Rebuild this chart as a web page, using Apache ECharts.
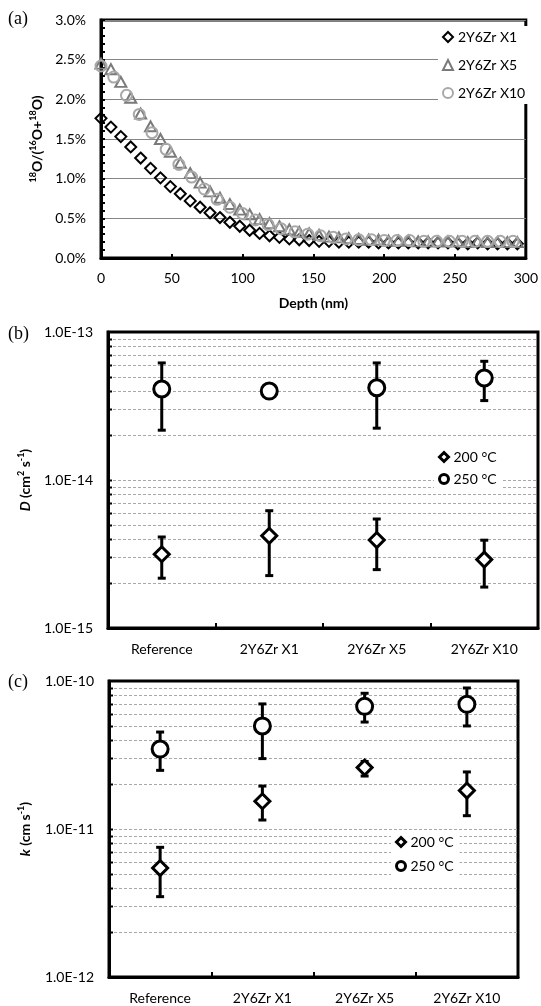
<!DOCTYPE html>
<html><head><meta charset="utf-8">
<script src="https://cdn.jsdelivr.net/npm/echarts@6/dist/echarts.min.js"></script>
<style>html,body{margin:0;padding:0;background:#fff}#c{width:541px;height:1006px}</style>
</head><body><div id="c"></div>
<script>
// ---------- Panel (a) data ----------
const depthX1 = [0,7,14,21,28,35,42,49,56,63,70,77,84,91,98,105,112,119,126,133,140,147,154,161,168,175,182,189,196,203,210,217,224,231,238,245,252,259,266,273,280,287,294];
const ratioX1 = [1.76,1.65,1.53,1.40,1.26,1.13,1.01,0.90,0.81,0.72,0.64,0.57,0.51,0.45,0.40,0.35,0.31,0.28,0.26,0.24,0.23,0.22,0.21,0.21,0.20,0.20,0.20,0.20,0.19,0.19,0.19,0.19,0.19,0.19,0.19,0.19,0.18,0.18,0.19,0.18,0.18,0.18,0.18];
const depthX5 = [0,7,14,21,28,35,42,49,56,63,70,77,84,91,98,105,112,119,126,133,140,147,154,161,168,175,182,189,196,203,210,217,224,231,238,245,252,259,266,273,280,287,294];
const ratioX5 = [2.45,2.38,2.22,2.02,1.82,1.66,1.50,1.34,1.20,1.07,0.95,0.84,0.76,0.68,0.61,0.55,0.49,0.44,0.40,0.36,0.33,0.31,0.29,0.27,0.26,0.25,0.24,0.23,0.23,0.22,0.22,0.22,0.21,0.21,0.21,0.21,0.21,0.20,0.21,0.20,0.20,0.20,0.20];
const depthX10 = [0,9,18,27,36,46,55,64,73,82,91,100,109,118,127,137,146,155,164,173,182,191,200,209,218,228,237,246,255,264,273,282,291];
const ratioX10 = [2.42,2.28,2.05,1.81,1.58,1.37,1.18,1.02,0.87,0.74,0.64,0.56,0.48,0.42,0.37,0.33,0.30,0.28,0.26,0.24,0.23,0.23,0.22,0.22,0.22,0.21,0.21,0.21,0.21,0.21,0.21,0.21,0.21];
const seriesNamesA = ['2Y6Zr X1','2Y6Zr X5','2Y6Zr X10'];

// ---------- Panels (b) and (c) data ----------
const categories = ['Reference','2Y6Zr X1','2Y6Zr X5','2Y6Zr X10'];
const tempNames = ['200 °C','250 °C'];
// D (cm2 s-1)
const D200 = [3.15e-15, 4.2e-15, 3.93e-15, 2.9e-15];
const D200lo = [2.17e-15, 2.26e-15, 2.48e-15, 1.89e-15];
const D200hi = [4.12e-15, 6.2e-15, 5.45e-15, 3.92e-15];
const D250 = [4.12e-14, 3.99e-14, 4.2e-14, 4.89e-14];
const D250lo = [2.17e-14, null, 2.24e-14, 3.44e-14];
const D250hi = [6.18e-14, null, 6.18e-14, 6.34e-14];
// k (cm s-1)
const K200 = [5.45e-12, 1.54e-11, 2.6e-11, 1.82e-11];
const K200lo = [3.49e-12, 1.15e-11, 2.28e-11, 1.23e-11];
const K200hi = [7.52e-12, 1.95e-11, 2.86e-11, 2.43e-11];
const K250 = [3.47e-11, 4.97e-11, 6.74e-11, 6.96e-11];
const K250lo = [2.49e-11, 2.99e-11, 5.28e-11, 4.97e-11];
const K250hi = [4.52e-11, 7.0e-11, 8.26e-11, 8.97e-11];
const gridValsB = [2e-15,3e-15,4e-15,5e-15,6e-15,7e-15,8e-15,9e-15,1e-14,2e-14,3e-14,4e-14,5e-14,6e-14,7e-14,8e-14,9e-14];
const gridValsC = [2e-12,3e-12,4e-12,5e-12,6e-12,7e-12,8e-12,9e-12,1e-11,2e-11,3e-11,4e-11,5e-11,6e-11,7e-11,8e-11,9e-11];

const FF = 'Lato';
const chart = echarts.init(document.getElementById('c'), null, {renderer:'canvas'});

function logGrid(idx, vals){
  return {type:'custom', xAxisIndex:idx, yAxisIndex:idx, silent:true, z:1,
    data: vals.map(v=>[0,v]),
    renderItem(params, api){
      const y = Math.round(api.coord([0, api.value(1)])[1]) + 0.5;
      const cs = params.coordSys;
      return {type:'group', children:[
        {type:'line', shape:{x1:cs.x, y1:y, x2:cs.x+cs.width, y2:y}, style:{stroke:'#a8a8a8', lineWidth:1, lineDash:[3,2]}},
        {type:'line', shape:{x1:cs.x, y1:y, x2:cs.x+4, y2:y}, style:{stroke:'#000', lineWidth:2}}
      ]};
    }};
}
function errSeries(idx, lo, hi){
  const d = [];
  lo.forEach((l,i)=>{ if(l!=null) d.push([i, l, hi[i]]); });
  return {type:'custom', xAxisIndex:idx, yAxisIndex:idx, silent:true, z:3, data:d,
    renderItem(params, api){
      const p1 = api.coord([api.value(0), api.value(1)]);
      const p2 = api.coord([api.value(0), api.value(2)]);
      const w = 4, st = {stroke:'#000', lineWidth:3};
      return {type:'group', children:[
        {type:'line', shape:{x1:p1[0],y1:p1[1],x2:p2[0],y2:p2[1]}, style:st},
        {type:'line', shape:{x1:p1[0]-w,y1:p1[1],x2:p1[0]+w,y2:p1[1]}, style:st},
        {type:'line', shape:{x1:p2[0]-w,y1:p2[1],x2:p2[0]+w,y2:p2[1]}, style:st}
      ]};
    }};
}
const expFmt = v => Number(v).toExponential(1).toUpperCase();
const richTitle = {
  b:{fontSize:14, fontWeight:'bold', fontFamily:FF, color:'#000', lineHeight:17},
  i:{fontSize:14, fontWeight:'bold', fontStyle:'italic', fontFamily:FF, color:'#000', lineHeight:17},
  s:{fontSize:9, fontWeight:'bold', fontFamily:FF, color:'#000', lineHeight:10, verticalAlign:'top'}
};
const lbl = {color:'#000', fontSize:14, fontFamily:FF};
const axLine = {show:true, lineStyle:{color:'#000', width:3}};

function catX(idx){
  return {gridIndex:idx, type:'category', data:categories, boundaryGap:true,
    axisLine:axLine, axisTick:{show:true, inside:true, length:5, lineStyle:{color:'#000', width:2}},
    axisLabel:Object.assign({margin:14, interval:0}, lbl), splitLine:{show:false}};
}
function logY(idx, min, max, name, gap){
  return {gridIndex:idx, type:'log', logBase:10, min:min, max:max, splitNumber:2,
    axisLine:axLine, axisTick:{show:false}, splitLine:{show:false},
    axisLabel:Object.assign({margin:15, formatter:expFmt}, lbl),
    name:name, nameLocation:'middle', nameGap:gap, nameRotate:90,
    nameTextStyle:{rich:richTitle}};
}
const hollow = (c,w)=>({color:'rgba(255,255,255,0)', borderColor:c, borderWidth:w, opacity:1});
const solidW = {color:'#fff', borderColor:'#000', borderWidth:3, opacity:1};

const option = {
  animation:false,
  backgroundColor:'#fff',
  title:[
    {text:'(a)', left:8, top:10, padding:0, textStyle:{fontFamily:'Liberation Serif', fontSize:18, fontWeight:'normal', color:'#000'}},
    {text:'(b)', left:8, top:325, padding:0, textStyle:{fontFamily:'Liberation Serif', fontSize:18, fontWeight:'normal', color:'#000'}},
    {text:'(c)', left:8, top:673, padding:0, textStyle:{fontFamily:'Liberation Serif', fontSize:18, fontWeight:'normal', color:'#000'}}
  ],
  grid:[
    {left:101, top:20, width:429, height:238, show:true, borderColor:'#000', borderWidth:3, backgroundColor:'transparent'},
    {left:108, top:332, width:430, height:296, show:true, borderColor:'#000', borderWidth:3, backgroundColor:'transparent'},
    {left:109, top:681, width:409, height:296, show:true, borderColor:'#000', borderWidth:3, backgroundColor:'transparent'}
  ],
  legend:[
    {data:seriesNamesA, orient:'vertical', left:438, top:26, padding:[4,6,4,4], itemGap:14, itemWidth:10, itemHeight:10,
     backgroundColor:'#fff', textStyle:lbl, selectedMode:false, itemStyle:{borderWidth:2}},
    {data:tempNames, orient:'vertical', left:434, top:447, padding:[3,6,3,4], itemGap:8, itemWidth:9, itemHeight:9,
     backgroundColor:'#fff', textStyle:lbl, selectedMode:false, itemStyle:{borderWidth:3, opacity:1}},
    {data:tempNames, orient:'vertical', left:391, top:832, padding:[3,6,3,4], itemGap:10, itemWidth:9, itemHeight:9,
     backgroundColor:'#fff', textStyle:lbl, selectedMode:false, itemStyle:{borderWidth:3, opacity:1}}
  ],
  xAxis:[
    {gridIndex:0, type:'value', min:0, max:300, interval:50,
     axisLine:axLine, axisTick:{show:true, inside:true, length:4, lineStyle:{color:'#000', width:2}},
     axisLabel:Object.assign({margin:13}, lbl), splitLine:{show:false},
     name:'Depth (nm)', nameLocation:'middle', nameGap:38,
     nameTextStyle:{fontSize:14, fontWeight:'bold', fontFamily:FF, color:'#000'}},
    catX(1), catX(2)
  ],
  yAxis:[
    {gridIndex:0, type:'value', min:0, max:3, interval:0.5,
     axisLine:axLine, axisTick:{show:true, inside:true, length:4, lineStyle:{color:'#000', width:2}},
     minorTick:{show:true, splitNumber:5, length:4, lineStyle:{color:'#000', width:2}},
     axisLabel:Object.assign({margin:15, formatter:v=>v.toFixed(1)+'%'}, lbl),
     splitLine:{show:true, lineStyle:{color:'#858585', width:1}},
     name:'{s|18}{b|O/(}{s|16}{b|O+}{s|18}{b|O)}', nameLocation:'middle', nameGap:47, nameRotate:90,
     nameTextStyle:{rich:richTitle}},
    logY(1, 1e-15, 1e-13, '{i|D}{b| (cm}{s|2}{b| s}{s|-1}{b|)}', 74),
    logY(2, 1e-12, 1e-10, '{i|k}{b| (cm s}{s|-1}{b|)}', 75)
  ],
  series:[
    {name:seriesNamesA[0], type:'scatter', xAxisIndex:0, yAxisIndex:0, symbol:'diamond', symbolSize:11,
     itemStyle:hollow('#000',2), data:depthX1.map((d,i)=>[d, ratioX1[i]]), z:3},
    {name:seriesNamesA[1], type:'scatter', xAxisIndex:0, yAxisIndex:0, symbol:'triangle', symbolSize:[11,10],
     itemStyle:hollow('#7a7a7a',2), data:depthX5.map((d,i)=>[d, ratioX5[i]]), z:4},
    {name:seriesNamesA[2], type:'scatter', xAxisIndex:0, yAxisIndex:0, symbol:'circle', symbolSize:11,
     itemStyle:hollow('#a8a8a8',2), data:depthX10.map((d,i)=>[d, ratioX10[i]]), z:5},

    logGrid(1, gridValsB),
    errSeries(1, D200lo, D200hi),
    errSeries(1, D250lo, D250hi),
    {name:tempNames[0], type:'scatter', xAxisIndex:1, yAxisIndex:1, symbol:'diamond', symbolSize:15,
     itemStyle:solidW, data:D200, z:5},
    {name:tempNames[1], type:'scatter', xAxisIndex:1, yAxisIndex:1, symbol:'circle', symbolSize:16,
     itemStyle:solidW, data:D250, z:5},

    logGrid(2, gridValsC),
    errSeries(2, K200lo, K200hi),
    errSeries(2, K250lo, K250hi),
    {name:tempNames[0], type:'scatter', xAxisIndex:2, yAxisIndex:2, symbol:'diamond', symbolSize:15,
     itemStyle:solidW, data:K200, z:5},
    {name:tempNames[1], type:'scatter', xAxisIndex:2, yAxisIndex:2, symbol:'circle', symbolSize:16,
     itemStyle:solidW, data:K250, z:5}
  ]
};
chart.setOption(option);
</script></body></html>
